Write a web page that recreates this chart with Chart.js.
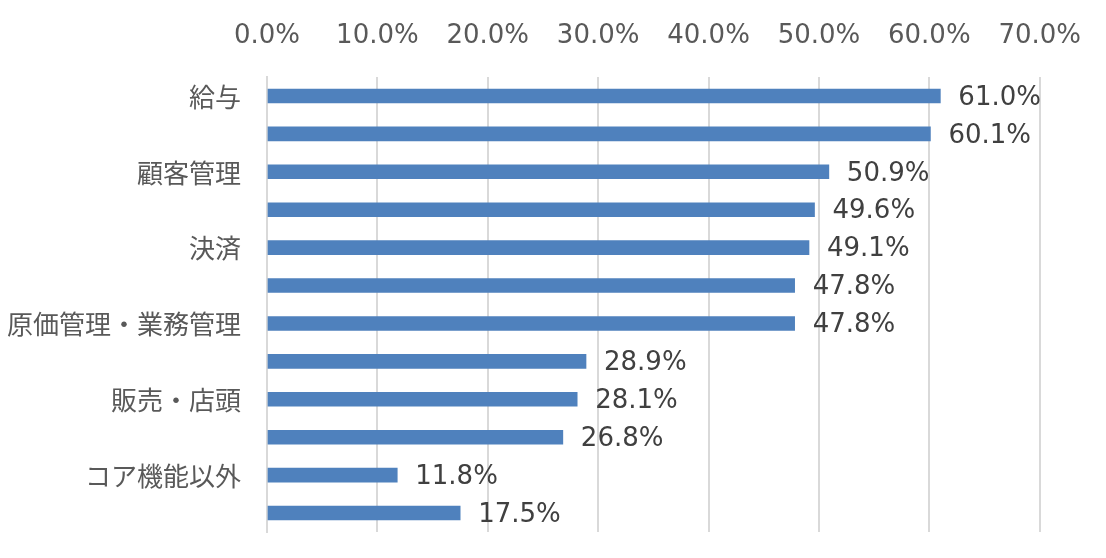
<!DOCTYPE html>
<html><head><meta charset="utf-8">
<script src="https://cdn.jsdelivr.net/npm/chart.js@4/dist/chart.umd.min.js"></script>
<style>html,body{margin:0;padding:0;background:#fff}#wrap{width:1106px;height:558px}</style>
</head><body><div id="wrap"><canvas id="c" width="1106" height="558"></canvas></div>
<script>
const categories = ["給与","","顧客管理","","決済","","原価管理・業務管理","","販売・店頭","","コア機能以外",""];
const values = [61.0, 60.1, 50.9, 49.6, 49.1, 47.8, 47.8, 28.9, 28.1, 26.8, 11.8, 17.5];
const tickValues = [0,10,20,30,40,50,60,70];

const FONT = '"DejaVu Sans","Noto Sans CJK JP",sans-serif';

const labelPlugin = {
  id: 'barLabels',
  afterDatasetsDraw(chart) {
    const ctx = chart.ctx;
    const meta = chart.getDatasetMeta(0);
    ctx.save();
    ctx.font = '26px ' + FONT;
    ctx.fillStyle = '#404040';
    ctx.textAlign = 'left';
    ctx.textBaseline = 'middle';
    meta.data.forEach((bar, i) => {
      ctx.fillText(values[i].toFixed(1) + '%', bar.x + 18, bar.y + 2);
    });
    ctx.restore();
  }
};

new Chart(document.getElementById('c'), {
  type: 'bar',
  data: {
    labels: categories,
    datasets: [{ data: values, backgroundColor: '#4F81BD', barThickness: 14 }]
  },
  options: {
    indexAxis: 'y',
    responsive: false,
    animation: false,
    layout: { padding: { left: 0, right: 65, top: 0, bottom: 26 } },
    plugins: { legend: { display: false }, tooltip: { enabled: false } },
    scales: {
      x: {
        position: 'top',
        min: 0, max: 70,
        afterBuildTicks(scale) { scale.ticks = tickValues.map(v => ({ value: v })); },
        afterFit(scale) { scale.height = 77; },
        grid: { color: '#d9d9d9', lineWidth: 2, drawTicks: false },
        border: { display: false },
        ticks: {
          padding: 25,
          color: '#595959',
          font: { family: FONT, size: 26 },
          callback: v => v.toFixed(1) + '%'
        }
      },
      y: {
        afterFit(scale) { scale.width = 267; scale.paddingTop = 0; scale.paddingBottom = 0; },
        grid: { display: false, drawTicks: false },
        border: { display: true, color: '#d9d9d9', width: 2 },
        ticks: {
          autoSkip: false,
          padding: 26,
          labelOffset: 4,
          color: '#595959',
          font: { family: FONT, size: 26 }
        }
      }
    }
  },
  plugins: [labelPlugin]
});
</script>
</body></html>
